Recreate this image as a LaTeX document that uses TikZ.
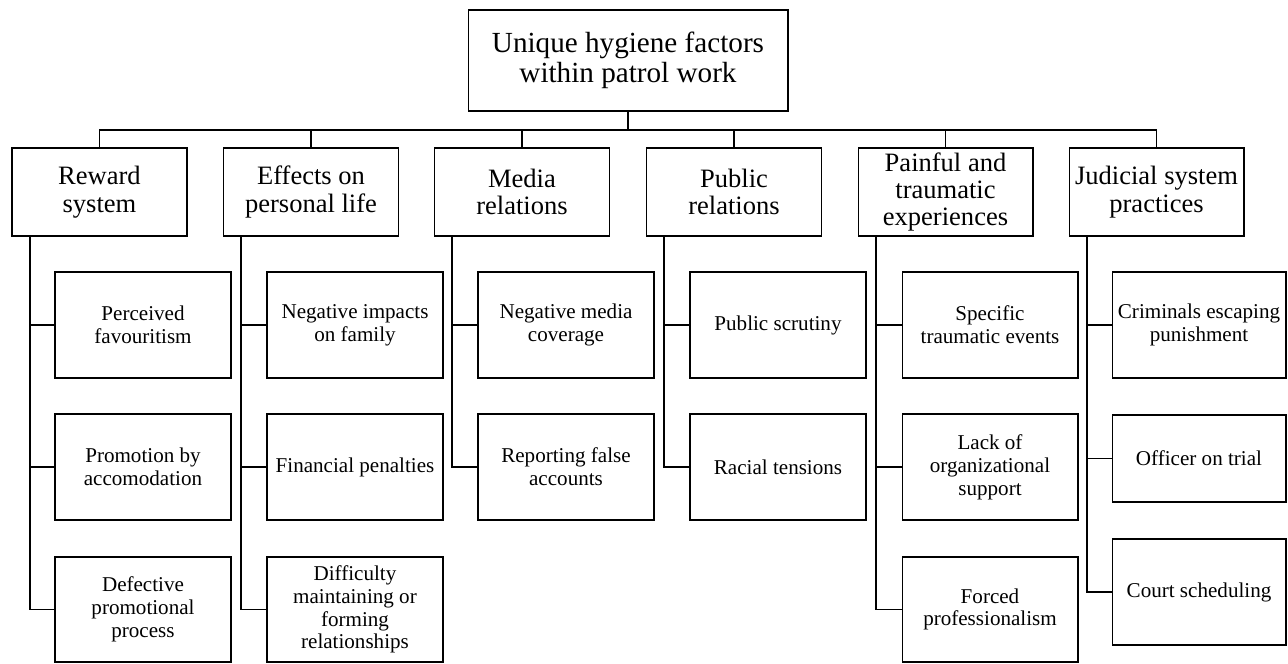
\documentclass[tikz,border=0pt]{standalone}
\usepackage{fontspec}
\setmainfont{Liberation Serif}

\begin{document}
\begin{tikzpicture}[x=0.02cm, y=-0.02cm, line width=0.6pt,
        topbox/.style={draw, align=center, inner sep=0pt, minimum width=6.4cm, minimum height=2.02cm, font=\fontsize{16.6pt}{17pt}\selectfont},
        catbox/.style={draw, align=center, inner sep=0pt, minimum width=3.5cm, minimum height=1.76cm, font=\fontsize{15.1pt}{15.6pt}\selectfont},
        subbox/.style={draw, align=center, inner sep=0pt, minimum width=3.52cm, minimum height=2.12cm, font=\fontsize{12pt}{13pt}\selectfont}]
        \useasboundingbox (0, 0) rectangle (1288, 663);

        \node[topbox] (top) at (628, 60.5) {Unique hygiene factors\\within patrol work};
        \coordinate (bus) at (628, 130);

        \node[catbox] (reward) at (99.5, 192) {Reward\\system};
        \node[catbox] (effects) at (311, 192) {Effects on\\personal life};
        \node[catbox] (media) at (522, 192) {Media\\relations};
        \node[catbox] (public) at (734, 192) {Public\\relations};
        \node[catbox] (painful) at (945.5, 192) {Painful and\\traumatic\\experiences};
        \node[catbox] (judicial) at (1156.5, 192) {Judicial system\\practices};

        \node[subbox] (r1) at (143, 325) {Perceived\\favouritism};
        \node[subbox] (r2) at (143, 467) {Promotion by\\accomodation};
        \node[subbox, minimum height=2.1cm] (r3) at (143, 609.5) {Defective\\promotional\\process};

        \node[subbox] (e1) at (355, 325) {Negative impacts\\on family};
        \node[subbox] (e2) at (355, 467) {Financial penalties};
        \node[subbox, minimum height=2.1cm] (e3) at (355, 609.5) {Difficulty\\maintaining or\\forming\\relationships};

        \node[subbox] (m1) at (566, 325) {Negative media\\coverage};
        \node[subbox] (m2) at (566, 467) {Reporting false\\accounts};

        \node[subbox] (p1) at (778, 325) {Public scrutiny};
        \node[subbox] (p2) at (778, 467) {Racial tensions};

        \node[subbox] (t1) at (990, 325) {Specific\\traumatic events};
        \node[subbox] (t2) at (990, 467) {Lack of\\organizational\\support};
        \node[subbox, minimum height=2.1cm] (t3) at (990, 609.5) {Forced\\professionalism};

        \node[subbox, minimum width=3.48cm] (j1) at (1199, 325) {Criminals escaping\\punishment};
        \node[subbox, minimum width=3.48cm, minimum height=1.74cm] (j2) at (1199, 458.5) {Officer on trial};
        \node[subbox, minimum width=3.48cm] (j3) at (1199, 592) {Court scheduling};

        % tree lines
        \draw (top.south) -- (bus);
        \draw (reward.north) |- (bus) -| (judicial.north);
        \foreach \c in {effects, media, public, painful}
            \draw (\c.north) -- (\c.north |- bus);

        \coordinate (rs) at (30, 236);
        \coordinate (es) at (241, 236);
        \coordinate (ms) at (452, 236);
        \coordinate (ps) at (664, 236);
        \coordinate (ts) at (876, 236);
        \coordinate (js) at (1087, 236);

        \foreach \s in {r1, r2, r3} \draw (rs) |- (\s.west);
        \foreach \s in {e1, e2, e3} \draw (es) |- (\s.west);
        \foreach \s in {m1, m2} \draw (ms) |- (\s.west);
        \foreach \s in {p1, p2} \draw (ps) |- (\s.west);
        \foreach \s in {t1, t2, t3} \draw (ts) |- (\s.west);
        \foreach \s in {j1, j2, j3} \draw (js) |- (\s.west);
    \end{tikzpicture}
\end{document}
